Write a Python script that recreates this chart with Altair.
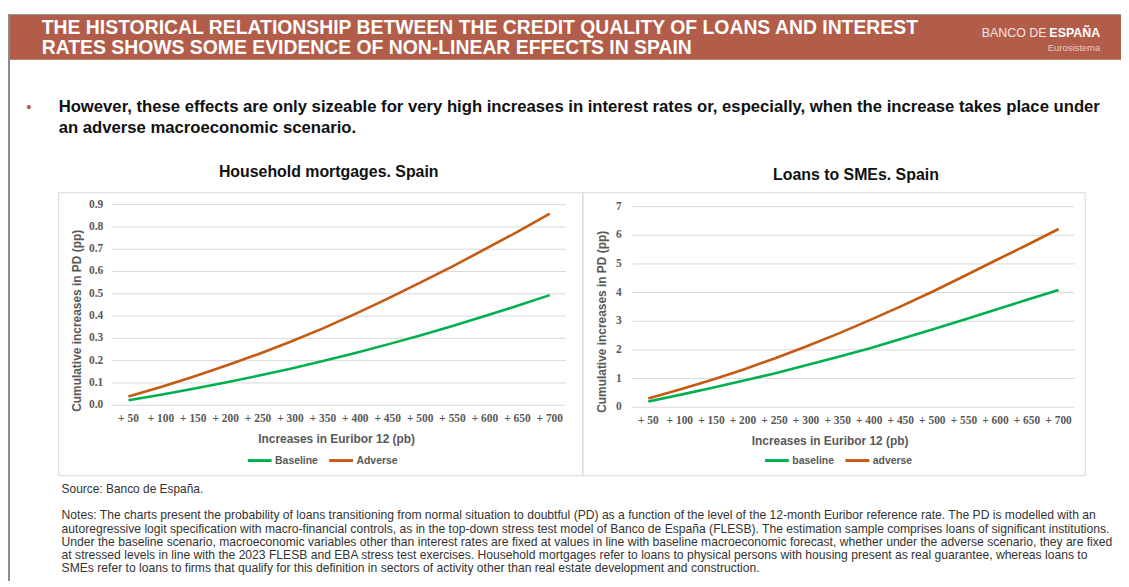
import altair as alt
import pandas as pd

# ---------------- data ----------------
INCREASES_BP = [50, 100, 150, 200, 250, 300, 350, 400, 450, 500, 550, 600, 650, 700]
INCREASE_LABELS = ["+ 50", "+ 100", "+ 150", "+ 200", "+ 250", "+ 300", "+ 350",
                   "+ 400", "+ 450", "+ 500", "+ 550", "+ 600", "+ 650", "+ 700"]

MORT_BASELINE = [0.022, 0.047, 0.074, 0.102, 0.132, 0.164, 0.198, 0.234, 0.273,
                 0.313, 0.355, 0.400, 0.446, 0.494]
MORT_ADVERSE = [0.039, 0.082, 0.128, 0.177, 0.229, 0.285, 0.345, 0.410, 0.478,
                0.550, 0.623, 0.700, 0.778, 0.860]
MORT_SERIES = ["Baseline", "Adverse"]
MORT_YTICKS = [0.0, 0.1, 0.2, 0.3, 0.4, 0.5, 0.6, 0.7, 0.8, 0.9]

SME_BASELINE = [0.20, 0.43, 0.67, 0.92, 1.18, 1.46, 1.75, 2.05, 2.38, 2.71, 3.05,
                3.40, 3.75, 4.09]
SME_ADVERSE = [0.30, 0.62, 0.95, 1.31, 1.70, 2.12, 2.56, 3.03, 3.52, 4.03, 4.57,
               5.12, 5.66, 6.22]
SME_SERIES = ["baseline", "adverse"]
SME_YTICKS = [0, 1, 2, 3, 4, 5, 6, 7]

HEADER_LINES = ["THE HISTORICAL RELATIONSHIP BETWEEN THE CREDIT QUALITY OF LOANS AND INTEREST",
                "RATES SHOWS SOME EVIDENCE OF NON-LINEAR EFFECTS IN SPAIN"]
BULLET_LINES = ["However, these effects are only sizeable for very high increases in interest rates or, especially, when the increase takes place under",
                "an adverse macroeconomic scenario."]
CHART_TITLES = ["Household mortgages. Spain", "Loans to SMEs. Spain"]
Y_TITLE = "Cumulative increases in PD (pp)"
X_TITLE = "Increases in Euribor 12 (pb)"
SOURCE = "Source: Banco de España."
NOTES_LINES = [
    "Notes: The charts present the probability of loans transitioning from normal situation to doubtful (PD) as a function of the level of the 12-month Euribor reference rate. The PD is modelled with an",
    "autoregressive logit specification with macro-financial controls, as in the top-down stress test model of Banco de España (FLESB). The estimation sample comprises loans of significant institutions.",
    "Under the baseline scenario, macroeconomic variables other than interest rates are fixed at values in line with baseline macroeconomic forecast, whether under the adverse scenario, they are fixed",
    "at stressed levels in line with the 2023 FLESB and EBA stress test exercises. Household mortgages refer to loans to physical persons with housing present as real guarantee, whereas loans to",
    "SMEs refer to loans to firms that qualify for this definition in sectors of activity other than real estate development and construction.",
]

# ---------------- styles ----------------
SANS = "Liberation Sans, Arial, sans-serif"
SERIF = "Liberation Serif, Times New Roman, serif"
BRAND = "#B15D49"
GREEN = "#00B050"
ORANGE = "#C55A11"
AXIS_GRAY = "#595959"
GRID = "#D9D9D9"

ONE = pd.DataFrame({"t": [""]})


def txt(s, x, y, **kw):
    return alt.Chart(pd.DataFrame({"t": [s]})).mark_text(**kw).encode(
        text="t:N", x=alt.value(x), y=alt.value(y))


def rule(x1, x2, y1, y2, color, width):
    return alt.Chart(ONE).mark_rule(color=color, strokeWidth=width).encode(
        x=alt.value(x1), x2=alt.value(x2), y=alt.value(y1), y2=alt.value(y2))


def panel(base, adv, names, ydom, yticks, fmt, xr, yr, ylab_x, xlab_y, leg_x, leg_y):
    n = len(INCREASES_BP)
    df = pd.DataFrame({"bp": INCREASES_BP * 2, "v": base + adv,
                       "s": [names[0]] * n + [names[1]] * n})
    xs = alt.Scale(domain=[INCREASES_BP[0] - 25, INCREASES_BP[-1] + 25], range=xr,
                   nice=False, zero=False)
    ys = alt.Scale(domain=ydom, range=yr, nice=False, zero=False)
    tick_df = pd.DataFrame({"t": yticks})
    grid = alt.Chart(tick_df).mark_rule(color=GRID, strokeWidth=1).encode(
        y=alt.Y("t:Q", scale=ys, axis=None), x=alt.value(xr[0]), x2=alt.value(xr[1]))
    ylab = alt.Chart(tick_df).mark_text(
        align="right", baseline="middle", font=SERIF, fontSize=11.5,
        fontWeight="bold", color=AXIS_GRAY).encode(
        y=alt.Y("t:Q", scale=ys, axis=None), x=alt.value(ylab_x),
        text=alt.Text("t:Q", format=fmt))
    xlab = alt.Chart(pd.DataFrame({"bp": INCREASES_BP, "lab": INCREASE_LABELS})).mark_text(
        align="center", baseline="middle", font=SERIF, fontSize=11.5,
        fontWeight="bold", color=AXIS_GRAY).encode(
        x=alt.X("bp:Q", scale=xs, axis=None), y=alt.value(xlab_y), text="lab:N")
    lines = alt.Chart(df).mark_line(strokeWidth=2.6).encode(
        x=alt.X("bp:Q", scale=xs, axis=None),
        y=alt.Y("v:Q", scale=ys, axis=None),
        color=alt.Color("s:N", scale=alt.Scale(domain=names, range=[GREEN, ORANGE]),
                        legend=alt.Legend(
                            orient="none", legendX=leg_x, legendY=leg_y,
                            direction="horizontal", title=None, symbolType="stroke",
                            symbolSize=576, symbolStrokeWidth=3, labelFont=SANS,
                            labelFontSize=10.5, labelFontWeight="bold",
                            labelColor=AXIS_GRAY, labelOffset=2, columnPadding=4,
                            padding=0)),
        order=alt.Order("bp:Q"))
    return alt.layer(grid, ylab, xlab, lines)


left = panel(MORT_BASELINE, MORT_ADVERSE, MORT_SERIES, [0, 0.9], MORT_YTICKS, ".1f",
             [105, 562], [398, 196], 96, 412, 240, 440)
right = panel(SME_BASELINE, SME_ADVERSE, SME_SERIES, [0, 7], SME_YTICKS, "d",
              [629, 1074], [400, 198], 618, 414, 761, 440)

frames = [
    alt.Chart(ONE).mark_rect(fill="white", fillOpacity=0, stroke=GRID, strokeWidth=1).encode(
        x=alt.value(51), x2=alt.value(579), y=alt.value(184), y2=alt.value(469)),
    alt.Chart(ONE).mark_rect(fill="white", fillOpacity=0, stroke=GRID, strokeWidth=1).encode(
        x=alt.value(579), x2=alt.value(1085), y=alt.value(184), y2=alt.value(469)),
]

header = [
    alt.Chart(ONE).mark_rect(color=BRAND).encode(
        x=alt.value(0), x2=alt.value(1121), y=alt.value(5), y2=alt.value(50)),
    rule(0, 1121, 4.5, 4.5, "#9A9A9A", 1.2),
    rule(1, 1, 4, 575, "#8C8C8C", 2),
    txt(HEADER_LINES[0], 34, 18.5, align="left", baseline="middle", font=SANS,
        fontSize=19.5, fontWeight="bold", color="white"),
    txt(HEADER_LINES[1], 34, 38.5, align="left", baseline="middle", font=SANS,
        fontSize=19.5, fontWeight="bold", color="white"),
    txt("ESPAÑA", 1100, 23, align="right", baseline="middle", font=SANS,
        fontSize=12.5, fontWeight="bold", color="white"),
    txt("BANCO DE", 1046, 23, align="right", baseline="middle", font=SANS,
        fontSize=12.5, color="#F4E4E0"),
    txt("Eurosistema", 1100, 38, align="right", baseline="middle", font=SANS,
        fontSize=9.5, color="#E9C9C1"),
]

bullet = [
    txt("•", 21, 98, align="center", baseline="middle", font=SANS, fontSize=15,
        color=BRAND),
    txt(BULLET_LINES[0], 51, 98, align="left", baseline="middle", font=SANS,
        fontSize=16.8, fontWeight="bold", color="#111111"),
    txt(BULLET_LINES[1], 51, 119, align="left", baseline="middle", font=SANS,
        fontSize=16.8, fontWeight="bold", color="#111111"),
]

titles = [
    txt(CHART_TITLES[0], 323, 163, align="center", baseline="middle", font=SANS,
        fontSize=16, fontWeight="bold", color="#111111"),
    txt(CHART_TITLES[1], 854, 166, align="center", baseline="middle", font=SANS,
        fontSize=16, fontWeight="bold", color="#111111"),
    txt(Y_TITLE, 70, 313, align="center", baseline="middle", angle=270, font=SANS,
        fontSize=12, fontWeight="bold", color=AXIS_GRAY),
    txt(Y_TITLE, 598, 314, align="center", baseline="middle", angle=270, font=SANS,
        fontSize=12, fontWeight="bold", color=AXIS_GRAY),
    txt(X_TITLE, 331, 432, align="center", baseline="middle", font=SANS,
        fontSize=12, fontWeight="bold", color=AXIS_GRAY),
    txt(X_TITLE, 828, 434, align="center", baseline="middle", font=SANS,
        fontSize=12, fontWeight="bold", color=AXIS_GRAY),
]

notes = [txt(SOURCE, 54, 482, align="left", baseline="middle", font=SANS,
             fontSize=12, color="#333333")]
for i, line in enumerate(NOTES_LINES):
    notes.append(txt(line, 54, 509 + i * 13.3, align="left", baseline="middle",
                     font=SANS, fontSize=12.2, color="#333333"))

chart = alt.layer(*frames, *header, *bullet, *titles, *notes, left, right).resolve_scale(
    x="independent", y="independent", color="independent"
).properties(
    width=1121, height=575, padding=0, autosize="none", background="white"
).configure_view(stroke=None)

chart.save("out.html", embed_options={"renderer": "svg", "actions": False})
